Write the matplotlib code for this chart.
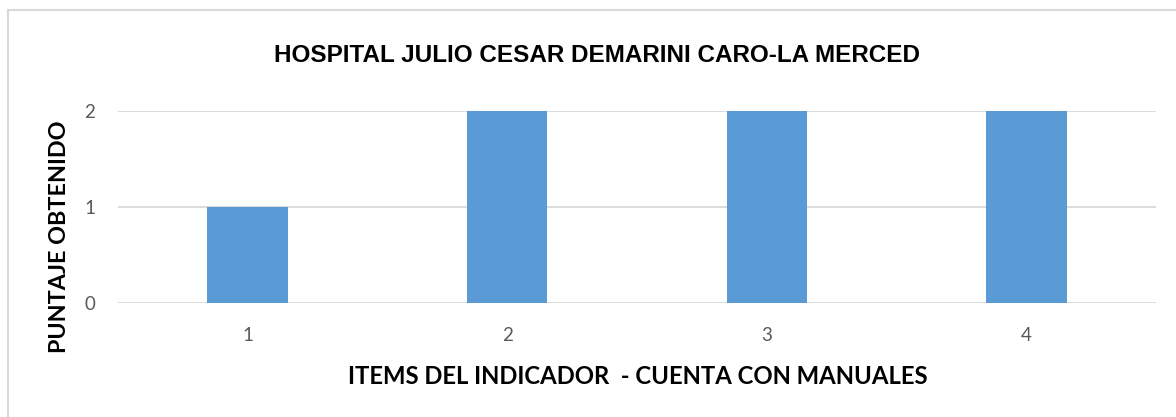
import matplotlib
matplotlib.use("Agg")
import matplotlib.pyplot as plt
from matplotlib.lines import Line2D

categories = ["1", "2", "3", "4"]
values = [1, 2, 2, 2]
yticks = [0, 1, 2]
title = "HOSPITAL JULIO CESAR DEMARINI CARO-LA MERCED"
xlabel = "ITEMS DEL INDICADOR  - CUENTA CON MANUALES"
ylabel = "PUNTAJE OBTENIDO"

W, H = 1176, 417
fig = plt.figure(figsize=(W / 100, H / 100), dpi=100)
# chart-area border (only left and top edges are visible in the reference)
fig.lines.append(Line2D([8 / W, 8 / W], [0, 1 - 10 / H], transform=fig.transFigure,
                        color="#D9D9D9", linewidth=1.5))
fig.lines.append(Line2D([8 / W, 1], [1 - 10 / H, 1 - 10 / H], transform=fig.transFigure,
                        color="#D9D9D9", linewidth=1.5))

ax = fig.add_axes([117.7 / W, 1 - 303 / H, (1156.3 - 117.7) / W, 192 / H])
x = list(range(len(categories)))
ax.bar(x, values, width=0.31, color="#5B9BD5", zorder=3)
ax.set_xlim(-0.5, len(categories) - 0.5)
ax.set_ylim(0, 2)
ax.set_yticks(yticks)
ax.set_xticks(x)
ax.set_xticklabels(categories)
for s in ax.spines.values():
    s.set_visible(False)
ax.grid(axis="y", color="#D9D9D9", linewidth=1.3, zorder=0)
ax.tick_params(axis="x", length=0, labelsize=13.5, labelcolor="#595959", pad=17)
ax.tick_params(axis="y", length=0, labelsize=13.5, labelcolor="#595959", pad=16)
for lab in ax.get_xticklabels() + ax.get_yticklabels():
    lab.set_family("Lato")

fig.text(597 / W, 1 - 55 / H, title, ha="center", va="center",
         fontsize=17.5, fontweight="bold", family="Liberation Sans")
fig.text(638 / W, 1 - 377 / H, xlabel, ha="center", va="center",
         fontsize=17.2, fontweight="bold", family="Lato")
fig.text(60 / W, 1 - 237 / H, ylabel, ha="center", va="center", rotation=90,
         fontsize=16.8, fontweight="bold", family="Lato")

fig.savefig("out.png", dpi=100, facecolor="white")
